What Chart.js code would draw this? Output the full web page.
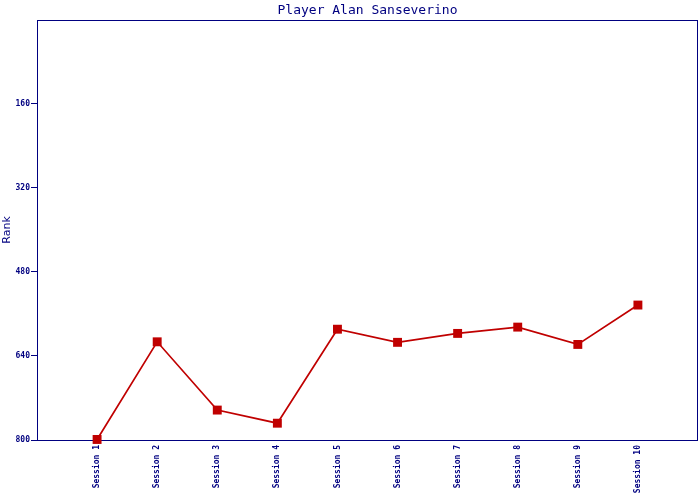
<!DOCTYPE html>
<html>
<head>
<meta charset="utf-8">
<script src="https://cdn.jsdelivr.net/npm/chart.js@4/dist/chart.umd.min.js"></script>
<style>
  html, body { margin: 0; padding: 0; background: #fff; }
</style>
</head>
<body>
<canvas id="rankChart" width="700" height="500"></canvas>
<script>
var sessions = ['Session 1', 'Session 2', 'Session 3', 'Session 4', 'Session 5',
	'Session 6', 'Session 7', 'Session 8', 'Session 9', 'Session 10'];
var ranks = [799, 613, 743, 768, 589, 614, 597, 585, 618, 543];
var rankTicks = [0, 160, 320, 480, 640, 800];

var navy = '#000080';
var red = '#C00000';

// one empty slot on each side, the way the original spaces its points
var labels = [''].concat(sessions, ['']);
var values = [null].concat(ranks, [null]);

// frame around the plot, drawn under the line so markers sit on top
var boxPlugin = {
	id: 'box',
	beforeDatasetsDraw: function(chart) {
		var a = chart.chartArea, ctx = chart.ctx;
		ctx.save();
		ctx.strokeStyle = navy;
		ctx.lineWidth = 1;
		ctx.strokeRect(Math.round(a.left) + 0.5, Math.round(a.top) + 0.5,
			Math.round(a.right - a.left) - 1, Math.round(a.bottom - a.top));
		ctx.restore();
	}
};

var ctx = document.getElementById('rankChart').getContext('2d');
new Chart(ctx, {
	type: 'line',
	data: {
		labels: labels,
		datasets: [{
			label: 'Rank',
			data: values,
			borderColor: red,
			backgroundColor: red,
			borderWidth: 1.7,
			pointStyle: 'rect',
			pointRadius: 6.3,
			pointBorderWidth: 0,
			pointBackgroundColor: red,
			tension: 0,
			clip: false
		}]
	},
	options: {
		responsive: false,
		animation: false,
		layout: { autoPadding: false, padding: { top: 0, left: 0, right: 2, bottom: 0 } },
		plugins: {
			legend: { display: false },
			tooltip: { enabled: false },
			title: {
				display: true,
				fullSize: false,
				text: 'Player Alan Sanseverino',
				color: navy,
				font: { family: 'DejaVu Sans Mono', size: 13, weight: 'normal', lineHeight: 1.15 },
				padding: { top: 3, bottom: 2 }
			}
		},
		scales: {
			x: {
				type: 'category',
				offset: false,
				afterFit: function(scale) {
					scale.height = 60;
					scale.paddingLeft = 0;
					scale.paddingRight = 0;
				},
				grid: { display: false, drawTicks: false },
				border: { display: false },
				ticks: {
					autoSkip: false,
					minRotation: 90,
					maxRotation: 90,
					padding: 5,
					color: navy,
					font: { family: 'DejaVu Sans Mono', size: 8, weight: 'bold' }
				}
			},
			y: {
				reverse: true,
				min: 0,
				max: 800,
				afterFit: function(scale) {
					scale.width = 37;
					scale.paddingTop = 0;
					scale.paddingBottom = 0;
				},
				afterBuildTicks: function(scale) {
					scale.ticks = rankTicks.map(function(v) { return { value: v }; });
				},
				grid: {
					drawOnChartArea: false,
					drawTicks: true,
					tickLength: 6,
					tickColor: navy,
					tickWidth: 1
				},
				border: { display: false },
				title: {
					display: true,
					text: 'Rank',
					color: navy,
					font: { family: 'DejaVu Sans', size: 11 },
					padding: { top: 1, bottom: 0 }
				},
				ticks: {
					padding: 1,
					color: navy,
					font: { family: 'DejaVu Sans Mono', size: 8, weight: 'bold' },
					callback: function(v) { return v === 0 ? null : String(v); }
				}
			}
		}
	},
	plugins: [boxPlugin]
});
</script>
</body>
</html>
